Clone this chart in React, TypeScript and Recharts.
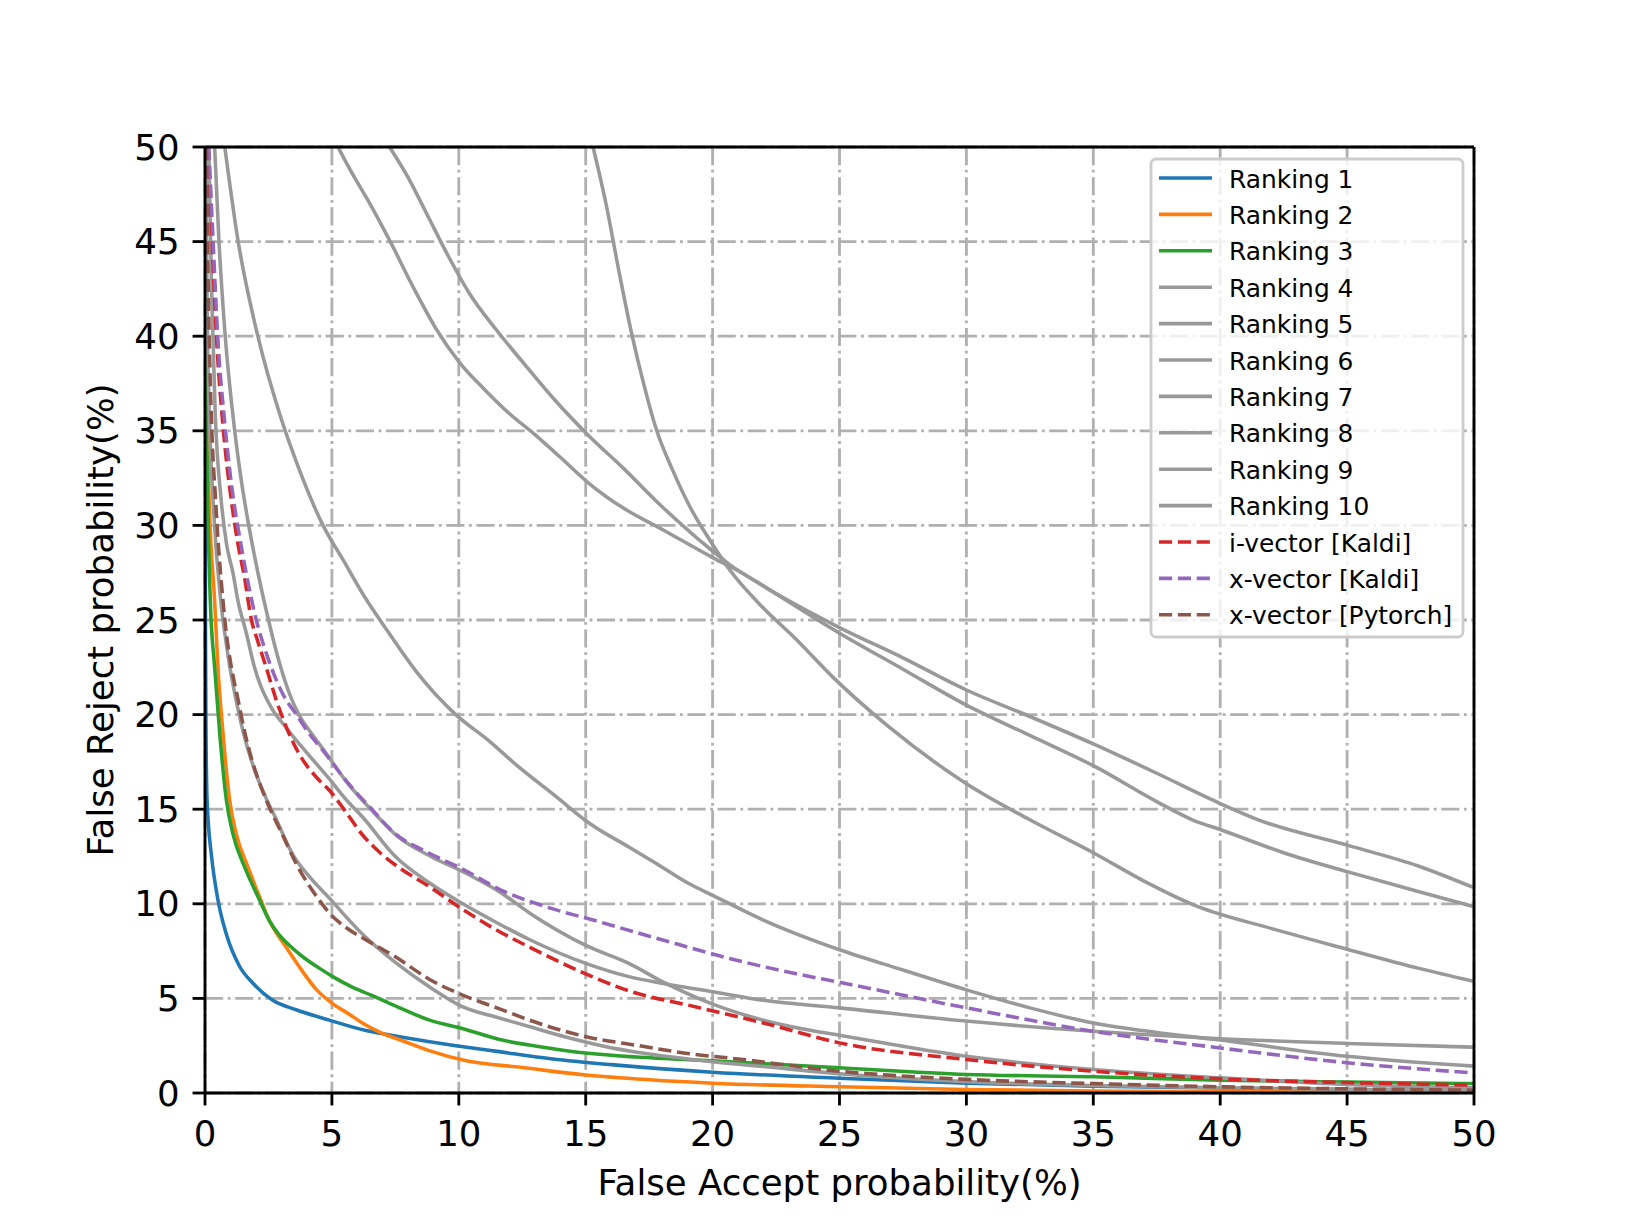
import React from 'react';
import { LineChart, Line, XAxis, YAxis, CartesianGrid, ReferenceLine, Label } from 'recharts';

// ---------- data ----------
const FA_TICKS = [0, 5, 10, 15, 20, 25, 30, 35, 40, 45, 50];
const FR_TICKS = [0, 5, 10, 15, 20, 25, 30, 35, 40, 45, 50];

const ranking1: [number, number][] = [
  [0, 50], [0.005, 40], [0.01, 30], [0.02, 24], [0.04, 19], [0.07, 16], [0.12, 14.5], [0.25, 12.6],
  [0.51, 10.2], [0.84, 8.4], [1.36, 6.7], [1.89, 5.8], [2.67, 4.9], [3.59, 4.4], [4.9, 3.85],
  [6.34, 3.3], [7.78, 2.95], [9.88, 2.5], [11.5, 2.2], [13.7, 1.8], [16, 1.5], [20, 1.1],
  [25, 0.78], [30, 0.52], [35, 0.36], [40, 0.26], [45, 0.18], [50, 0.12],
];
const ranking2: [number, number][] = [
  [0.01, 50], [0.06, 40], [0.15, 32], [0.38, 26], [0.51, 22.5], [0.71, 19], [0.97, 15.5],
  [1.23, 13.7], [1.69, 11.95], [2.2, 10.2], [2.54, 9.1], [3.2, 7.7], [3.7, 6.7], [4.4, 5.45],
  [5.0, 4.75], [5.7, 4.15], [6.2, 3.7], [6.9, 3.2], [7.8, 2.75], [8.8, 2.25], [10.3, 1.7],
  [12.5, 1.35], [15, 0.95], [17.5, 0.7], [20, 0.52], [25, 0.33], [30, 0.19], [35, 0.11],
  [40, 0.07], [45, 0.05], [50, 0.03],
];
const ranking3: [number, number][] = [
  [0.005, 50], [0.03, 40], [0.1, 32], [0.21, 26], [0.38, 22.5], [0.58, 19], [0.84, 15.5],
  [1.1, 13.7], [1.56, 11.95], [2.15, 10.2], [2.54, 9.1], [2.9, 8.4], [3.33, 7.8], [3.9, 7.15],
  [4.5, 6.6], [5.1, 6.1], [5.8, 5.6], [6.5, 5.2], [7.5, 4.6], [8.85, 3.85], [10.16, 3.4], [11.7, 2.8],
  [13.2, 2.45], [15.1, 2.1], [17, 1.9], [20, 1.7], [25, 1.33], [30, 0.98], [35, 0.86], [40, 0.68],
  [45, 0.58], [50, 0.5],
];
const ranking4: [number, number][] = [
  [5.24, 50], [5.8, 48.6], [6.5, 47.0], [7.3, 45.0], [8.2, 42.6], [9.1, 40.4], [10.03, 38.6],
  [11, 37.2], [12, 35.9], [13, 34.8], [14, 33.6], [15.15, 32.2], [16.5, 30.9], [18, 29.8],
  [20, 28.3], [21, 27.6], [22.5, 26.4], [25, 24.6], [27.5, 23.0], [30, 21.3], [32.5, 19.9],
  [35, 18.45], [37.5, 16.9], [40, 15.3], [41.5, 14.44], [45, 13.1], [47.8, 12.0], [50, 10.85],
];
const ranking5: [number, number][] = [
  [7.27, 50], [8.0, 48.4], [8.8, 46.3], [9.6, 44.2], [10.4, 42.3], [11.5, 40.3], [12.6, 38.5],
  [13.8, 36.6], [15.15, 34.7], [16.5, 33.0], [18, 31.0], [19.5, 29.2], [20.7, 27.9],
  [22, 26.8], [25, 24.3], [27.5, 22.4], [30, 20.5], [32.5, 18.9], [35, 17.3], [37.5, 15.4],
  [38.9, 14.44], [40.05, 13.9], [42.5, 12.7], [45, 11.7], [47.8, 10.65], [50, 9.85],
];
const ranking6: [number, number][] = [
  [15.29, 50], [15.8, 47.0], [16.3, 43.5], [16.8, 40.2], [17.3, 37.4], [17.8, 35.0], [18.4, 33.0],
  [19.1, 31.0], [19.9, 29.2], [20.7, 27.6], [21.95, 25.7], [23.2, 24.1], [24.8, 21.9], [26.9, 19.4],
  [30, 16.35], [32.5, 14.44], [35, 12.7], [37, 11.2], [39.1, 9.86], [42, 8.7], [45, 7.6],
  [47.8, 6.6], [50, 5.9],
];
const ranking7: [number, number][] = [
  [0.78, 50], [1.3, 45.06], [2.09, 39.96], [2.94, 35.9], [3.73, 32.9], [4.65, 30.0],
  [5.43, 28.2], [6.3, 26.2], [7.2, 24.4], [8.31, 22.3], [9.88, 20.0], [11.2, 18.6], [12.3, 17.3],
  [13.8, 15.7], [15.1, 14.3], [16.7, 13.0], [17.7, 12.2], [19.06, 11.07], [20, 10.45], [22, 9.14],
  [25, 7.57], [27.5, 6.5], [30, 5.45], [32.5, 4.5], [35, 3.7], [37.5, 3.2], [40, 2.8], [45, 1.94],
  [50, 1.42],
];
const ranking8: [number, number][] = [
  [0.15, 50], [0.25, 43], [0.4, 36], [0.64, 31.3], [0.85, 29], [1.1, 27.5], [1.3, 26], [1.63, 24.3],
  [1.95, 22.5], [2.2, 21.5], [2.6, 20.4], [3.2, 19.3], [4.0, 18.0], [4.9, 16.6], [5.5, 15.6],
  [6.2, 14.6], [7.5, 12.5], [8.85, 11.1], [10.16, 10.0], [11.5, 9.0], [12.8, 8.1], [15, 6.85],
  [16.7, 6.15], [18, 5.8], [20, 5.35], [22, 4.9], [25, 4.5], [30, 3.8], [35, 3.26], [40, 2.87],
  [45, 2.62], [50, 2.42],
];
const ranking9: [number, number][] = [
  [0.38, 50], [0.55, 45], [0.78, 40.3], [1.17, 35], [1.45, 32.2], [1.75, 29.8], [2.1, 27.4],
  [2.5, 25.0], [2.94, 22.7], [3.33, 21.1], [3.7, 20.0], [4.2, 19.0], [4.75, 18.0], [5.6, 16.4],
  [6.6, 14.9], [7.6, 13.55], [8.9, 12.5], [10.3, 11.6], [11.7, 10.55], [12.8, 9.5], [15, 7.8],
  [16.7, 6.85], [18, 5.9], [20, 4.7], [22, 3.85], [23.9, 3.3], [25, 3.05], [30, 1.94], [35, 1.24],
  [40, 0.8], [45, 0.45], [50, 0.27],
];
const ranking10: [number, number][] = [
  [0.04, 50], [0.08, 42], [0.17, 36], [0.33, 31], [0.62, 26], [0.78, 24.3], [0.98, 22.5],
  [1.22, 20.8], [1.52, 19], [1.92, 17.2], [2.4, 15.6], [2.76, 14.6], [3.46, 12.6], [4.2, 11.3],
  [4.9, 10.3], [5.5, 9.4], [6.2, 8.4], [7.5, 6.9], [8.85, 5.6], [10.16, 4.55], [11.5, 4.0],
  [12.8, 3.5], [14.1, 3.0], [15.8, 2.45], [18.4, 1.9], [20, 1.65], [22, 1.4], [25, 1.02],
  [30, 0.6], [35, 0.4], [40, 0.28], [45, 0.2], [50, 0.13],
];
const ivectorKaldi: [number, number][] = [
  [0.12, 50], [0.28, 45], [0.45, 40], [0.7, 35.4], [1.04, 31.3], [1.3, 29], [1.55, 27.3], [1.83, 25],
  [2.05, 24], [2.41, 22.5], [2.8, 20.8], [3.2, 19.35], [3.72, 17.9], [4.38, 16.7], [4.9, 16.0],
  [5.5, 14.95], [6.2, 13.65], [6.9, 12.7], [7.5, 12.05], [8.85, 10.9], [10.16, 9.7], [11.5, 8.6],
  [12.8, 7.7], [15, 6.3], [16.7, 5.4], [19.35, 4.55], [22, 3.7], [25, 2.65], [30, 1.77], [35, 1.15],
  [40, 0.75], [45, 0.55], [50, 0.42],
];
const xvectorKaldi: [number, number][] = [
  [0.15, 50], [0.32, 45], [0.5, 40], [0.78, 35.4], [1.13, 31.3], [1.35, 29.5], [1.65, 27.3],
  [2.02, 25], [2.35, 23.5], [2.61, 22.5], [3.1, 21], [3.6, 20], [4.1, 19], [4.65, 18.1], [5.5, 16.6],
  [6.5, 15.1], [7.5, 13.7], [8.8, 12.7], [10.2, 11.8], [11.7, 10.7], [13.3, 9.9], [15.4, 9.1],
  [18, 8.1], [20.7, 7.1], [23.3, 6.3], [25, 5.85], [30, 4.5], [35, 3.26], [40, 2.38], [45, 1.6],
  [50, 1.06],
];
const xvectorPytorch: [number, number][] = [
  [0.06, 50], [0.1, 45], [0.16, 40.3], [0.27, 35], [0.42, 31.3], [0.5, 29.5], [0.71, 26],
  [0.84, 24.3], [1.04, 22.5], [1.3, 20.8], [1.56, 19.1], [1.85, 17.6], [2.2, 16.2], [2.6, 14.9],
  [3.0, 13.8], [3.6, 12.1], [4.5, 10.2], [4.91, 9.5], [5.5, 8.8], [6.2, 8.2], [7.5, 7.2], [8.85, 6.0],
  [10.1, 5.2], [11.5, 4.5], [13.2, 3.66], [15.1, 2.95], [17.1, 2.5], [19.1, 2.07], [21, 1.8],
  [25, 1.15], [30, 0.72], [35, 0.5], [40, 0.33], [45, 0.22], [50, 0.15],
];

const SERIES_NAMES = [
  'Ranking 1', 'Ranking 2', 'Ranking 3', 'Ranking 4', 'Ranking 5', 'Ranking 6', 'Ranking 7',
  'Ranking 8', 'Ranking 9', 'Ranking 10', 'i-vector [Kaldi]', 'x-vector [Kaldi]', 'x-vector [Pytorch]',
];
const SERIES_POINTS = [
  ranking1, ranking2, ranking3, ranking4, ranking5, ranking6, ranking7, ranking8, ranking9, ranking10,
  ivectorKaldi, xvectorKaldi, xvectorPytorch,
];

// ---------- styles ----------
const GRAY = '#999999';
const SERIES_COLORS = [
  '#1f77b4', '#ff7f0e', '#2ca02c', GRAY, GRAY, GRAY, GRAY, GRAY, GRAY, GRAY,
  '#d62728', '#9467bd', '#8c564b',
];
const SERIES_DASHED = [
  false, false, false, false, false, false, false, false, false, false, true, true, true,
];

const W = 1638;
const H = 1228;
const PT = 256 / 72;
const FONT = '"DejaVu Sans", sans-serif';
const MARGIN = { top: 147, right: 164, bottom: 0, left: 0 };
const Y_AXIS_W = 205;
const X_AXIS_H = 135;
const LW = 1.0 * PT;
const SPINE = 0.8 * PT;
const TICK_FS = 10 * PT;
const DASH = `${3.7 * PT} ${1.6 * PT}`;
const GRID_DASH = `${5.12 * PT} ${1.28 * PT} ${0.8 * PT} ${1.28 * PT}`;

const LEG = {
  x: 1151, y: 159, w: 312, h: 478, row0: 178, rowH: 36.4,
  hx0: 1159, hx1: 1212, tx: 1229, fs: 24.9,
};

const series = SERIES_NAMES.map((name, i) => ({
  name,
  color: SERIES_COLORS[i],
  dashed: SERIES_DASHED[i],
  data: SERIES_POINTS[i].map(([x, y]) => ({ x, y })),
}));

const XLabel = (props: any) => {
  const vb = props.viewBox || { x: Y_AXIS_W, y: H - X_AXIS_H, width: W - Y_AXIS_W - MARGIN.right, height: X_AXIS_H };
  return (
    <text x={vb.x + vb.width / 2} y={vb.y + 102} textAnchor="middle" fontSize={TICK_FS} fontFamily={FONT} fill="#000">
      False Accept probability(%)
    </text>
  );
};

const YLabel = (props: any) => {
  const vb = props.viewBox || { x: 0, y: MARGIN.top, width: Y_AXIS_W, height: H - MARGIN.top - X_AXIS_H };
  const cx = vb.x + vb.width - 92.3;
  const cy = vb.y + vb.height / 2;
  return (
    <text x={cx} y={cy} transform={`rotate(-90 ${cx} ${cy})`} textAnchor="middle" fontSize={TICK_FS} fontFamily={FONT} fill="#000">
      False Reject probability(%)
    </text>
  );
};

const LegendOverlay = () => (
  <svg width={W} height={H} style={{ position: 'absolute', left: 0, top: 0, pointerEvents: 'none' }}>
    <rect x={LEG.x} y={LEG.y} width={LEG.w} height={LEG.h} rx={5} ry={5}
      fill="rgba(255,255,255,0.8)" stroke="#cccccc" strokeWidth={2.8} />
    {series.map((s, i) => {
      const cy = LEG.row0 + i * LEG.rowH;
      return (
        <g key={s.name}>
          <line x1={LEG.hx0} x2={LEG.hx1} y1={cy} y2={cy} stroke={s.color} strokeWidth={LW}
            strokeDasharray={s.dashed ? DASH : undefined} />
          <text x={LEG.tx} y={cy + 9.5} fontSize={LEG.fs} fontFamily={FONT} fill="#000">{s.name}</text>
        </g>
      );
    })}
  </svg>
);

export default function App() {
  return (
    <div style={{ position: 'absolute', left: 0, top: 0, width: W, height: H, background: '#fff' }}>
      <LineChart width={W} height={H} margin={MARGIN}>
        <CartesianGrid stroke="#b0b0b0" strokeWidth={SPINE} strokeDasharray={GRID_DASH} />
        <XAxis
          type="number"
          dataKey="x"
          domain={[0, 50]}
          ticks={FA_TICKS}
          interval={0}
          allowDataOverflow
          height={X_AXIS_H}
          tickSize={3.5 * PT}
          tickMargin={15}
          tick={{ fill: '#000', fontSize: TICK_FS, fontFamily: FONT }}
          tickLine={{ stroke: '#000', strokeWidth: SPINE }}
          axisLine={{ stroke: '#000', strokeWidth: SPINE }}
        >
          <Label content={XLabel} />
        </XAxis>
        <YAxis
          type="number"
          domain={[0, 50]}
          ticks={FR_TICKS}
          interval={0}
          allowDataOverflow
          width={Y_AXIS_W}
          tickSize={3.5 * PT}
          tickMargin={13}
          tick={{ fill: '#000', fontSize: TICK_FS, fontFamily: FONT }}
          tickLine={{ stroke: '#000', strokeWidth: SPINE }}
          axisLine={{ stroke: '#000', strokeWidth: SPINE }}
        >
          <Label content={YLabel} />
        </YAxis>
        {series.map((s) => (
          <Line
            key={s.name}
            name={s.name}
            data={s.data}
            dataKey="y"
            type="monotone"
            stroke={s.color}
            strokeWidth={LW}
            strokeDasharray={s.dashed ? DASH : undefined}
            strokeLinejoin="round"
            dot={false}
            activeDot={false}
            isAnimationActive={false}
          />
        ))}
        <ReferenceLine x={50} stroke="#000" strokeWidth={SPINE} />
        <ReferenceLine y={50} stroke="#000" strokeWidth={SPINE} />
      </LineChart>
      <LegendOverlay />
    </div>
  );
}
